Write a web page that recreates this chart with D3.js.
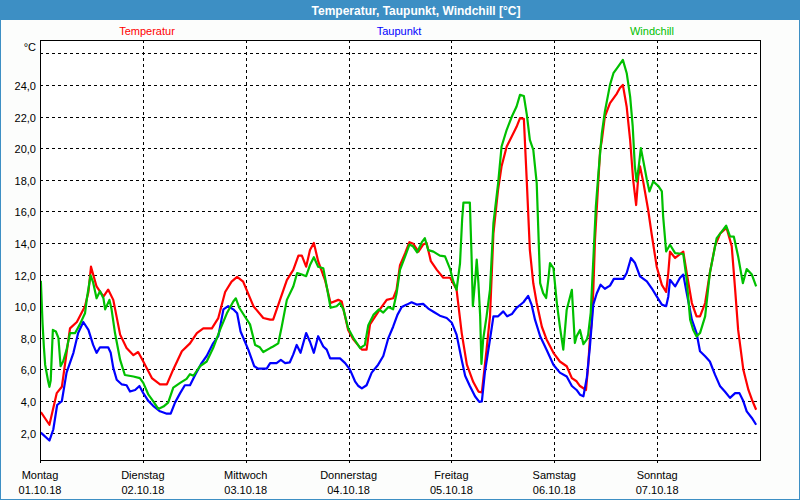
<!DOCTYPE html>
<html>
<head>
<meta charset="utf-8">
<script src="https://cdn.jsdelivr.net/npm/d3@7"></script>
<style>
  html, body { margin: 0; padding: 0; background: #ffffff; }
  svg { display: block; }
  text { font-family: "Liberation Sans", Arial, sans-serif; }
</style>
</head>
<body>
<script>
// ---- Data (hours since Mo 01.10.18 00:00) ----
const titleText = "Temperatur, Taupunkt, Windchill [°C]";
const seriesNames = ["Temperatur", "Taupunkt", "Windchill"];
const seriesColors = ["#ff0000", "#0000ff", "#00c000"];
const dayNames = ["Montag", "Dienstag", "Mittwoch", "Donnerstag", "Freitag", "Samstag", "Sonntag"];
const dayDates = ["01.10.18", "02.10.18", "03.10.18", "04.10.18", "05.10.18", "06.10.18", "07.10.18"];
const dayHours = [0, 24, 48, 72, 96, 120, 144];
const yTickValues = [2, 4, 6, 8, 10, 12, 14, 16, 18, 20, 22, 24];
const yGridValues = [2, 4, 6, 8, 10, 12, 14, 16, 18, 20, 22, 24, 26];
const yUnit = "°C";

const tempHours = [0.2,2.2,3.9,5.1,7.0,8.6,10.5,11.3,11.9,13.2,14.8,15.9,17.1,18.7,20.2,21.8,22.9,24.1,26.1,28.0,29.6,31.1,33.1,35.0,36.6,38.1,40.1,41.6,43.2,44.7,46.0,47.4,49.8,52.1,53.7,54.4,56.0,57.6,59.1,60.3,61.1,62.1,63.0,63.9,64.9,66.5,67.8,69.6,70.4,71.9,73.1,75.1,76.2,77.0,79.3,80.9,82.4,83.2,84.0,85.2,86.2,87.1,88.3,89.4,90.2,91.2,92.6,94.1,95.7,97.2,98.4,99.6,101.1,102.3,103.1,104.2,105.0,105.8,106.9,107.7,108.9,110.1,111.2,112.0,112.9,113.6,114.3,115.1,115.9,117.1,118.2,119.8,121.3,122.9,124.1,125.2,126.0,127.4,127.9,128.3,128.7,129.1,129.5,129.9,130.3,130.7,131.1,131.8,133.0,134.6,135.3,136.0,136.9,137.7,138.4,139.1,139.6,140.0,140.8,141.9,142.7,143.9,145.1,146.1,146.6,147.0,148.2,150.1,150.9,152.1,153.2,154.0,155.2,156.3,157.5,158.7,160.2,161.4,162.2,162.9,164.1,165.3,166.1,167.1];
const tempValues = [3.3,2.5,4.5,4.9,8.6,9.0,10.0,10.9,12.5,11.25,10.6,11.05,10.4,8.2,7.35,6.9,7.1,6.5,5.45,5.05,5.05,6.0,7.15,7.65,8.3,8.6,8.6,9.25,10.9,11.55,11.85,11.55,10.0,9.25,9.15,9.15,10.4,11.65,12.3,13.2,13.2,12.5,13.55,14.0,12.85,11.65,10.2,10.4,10.3,8.5,7.9,7.25,7.25,8.85,9.8,10.4,10.5,11.05,12.6,13.35,14.05,13.95,13.45,13.9,14.0,12.85,12.3,11.8,11.8,11.05,8.3,6.3,5.2,4.6,4.55,7.25,9.35,14.6,17.4,18.85,20.1,20.75,21.35,21.9,21.85,17.8,13.55,11.45,10.2,8.7,7.9,7.05,6.5,6.2,5.45,5.25,4.95,4.7,6.2,7.9,8.9,11.0,14.2,16.1,18.0,19.9,20.5,22.0,22.85,23.45,23.8,24.0,22.6,20.5,18.0,16.4,18.2,18.85,17.8,16.1,14.6,12.5,11.35,10.9,12.1,13.45,13.05,13.45,12.1,10.2,9.35,9.35,10.2,12.1,13.8,14.6,14.95,13.8,11.05,8.5,6.0,4.7,4.1,3.45];

const dewHours = [0.2,2.2,3.1,4.0,5.1,6.2,7.8,8.9,10.1,11.3,12.4,13.2,14.0,15.9,16.5,17.1,17.9,19.1,20.2,21.0,22.2,23.2,24.1,25.3,26.4,28.0,29.6,30.5,31.5,32.7,33.8,35.0,36.2,37.7,38.9,40.4,41.6,42.8,43.9,45.1,46.0,46.8,48.6,50.0,50.9,52.9,53.7,55.2,56.2,57.2,58.3,59.1,59.9,60.8,62.1,63.0,63.9,64.9,66.1,66.9,67.7,70.0,71.2,72.3,73.5,74.3,75.1,76.2,77.4,78.9,80.1,81.3,82.4,83.4,84.4,85.6,86.7,87.9,89.4,90.6,91.8,93.3,94.9,96.1,97.2,98.4,99.2,100.3,101.5,102.5,103.1,103.8,105.0,105.8,106.9,108.1,109.0,110.1,111.2,112.8,113.9,114.7,115.5,116.7,118.2,119.8,121.3,122.9,124.1,125.2,126.0,126.8,127.6,128.3,129.1,129.9,130.8,131.8,133.0,133.9,136.1,136.9,137.9,138.8,140.0,141.6,142.7,143.9,145.1,146.1,146.6,147.0,148.2,149.3,150.1,150.9,152.1,153.2,154.0,155.2,156.3,157.5,158.7,159.8,161.0,162.2,163.2,164.1,164.9,166.1,167.1];
const dewValues = [2.0,1.5,2.2,3.75,4.0,5.8,7.05,8.3,9.0,8.5,7.55,7.05,7.4,7.4,7.05,6.1,5.35,5.05,5.0,4.6,4.7,4.95,4.5,4.0,3.7,3.35,3.2,3.2,3.9,4.5,5.0,5.0,5.65,6.4,6.85,7.65,8.1,9.8,10.0,9.8,9.55,8.4,7.25,6.2,6.05,6.05,6.4,6.4,6.6,6.4,6.45,6.95,7.55,7.05,8.3,7.75,7.05,8.1,7.45,7.25,6.7,6.7,6.4,6.0,5.25,4.95,4.8,5.0,5.8,6.3,6.85,8.0,8.7,9.45,9.95,10.1,10.25,10.1,10.15,9.85,9.65,9.4,9.25,8.95,8.2,6.6,5.6,4.95,4.3,3.95,3.98,5.8,7.9,9.36,9.36,9.67,9.36,9.5,9.9,10.25,10.65,10.1,9.15,8.1,7.25,6.3,5.8,5.55,4.95,4.7,4.4,4.3,5.5,7.4,10.1,10.8,11.36,11.1,11.3,11.73,11.73,12.1,13.05,12.75,11.88,11.57,11.15,10.62,10.1,10.0,10.6,11.67,11.25,11.78,12.0,10.83,9.15,8.3,7.15,6.83,6.5,5.67,4.93,4.6,4.2,4.5,4.5,4.0,3.35,2.93,2.5];

const windHours = [0.2,0.6,0.9,1.2,1.9,2.2,2.5,3.0,3.7,4.3,4.8,5.4,6.2,7.0,8.2,9.3,10.5,11.0,11.8,12.4,13.2,14.0,14.8,15.2,16.2,16.7,17.5,18.7,19.8,21.8,23.3,24.1,25.3,26.4,27.6,28.8,29.9,31.1,32.7,34.2,35.0,35.8,37.3,38.9,40.4,42.0,43.6,45.1,45.7,46.5,47.8,49.0,50.2,51.3,52.1,53.7,54.4,55.6,56.4,57.6,59.1,60.0,61.1,62.1,63.0,63.9,64.9,66.1,66.9,67.8,69.2,70.0,70.8,71.9,73.1,74.7,75.8,76.6,77.8,79.1,80.1,81.3,82.4,83.2,84.0,85.2,86.2,87.0,88.0,89.1,89.8,90.6,91.8,93.3,94.5,95.7,96.4,97.2,98.0,98.5,98.8,100.3,100.7,101.0,101.5,101.9,102.3,102.7,103.0,103.4,104.2,105.0,105.8,106.9,107.7,108.9,110.1,111.2,112.0,112.9,113.6,114.3,115.1,115.9,116.7,117.4,118.1,118.6,119.0,119.8,120.6,121.3,122.1,122.9,124.1,124.8,125.2,126.0,126.8,127.6,127.9,128.5,129.1,129.7,130.3,131.1,131.8,133.0,133.8,134.9,136.0,136.9,137.7,138.3,138.8,139.2,139.6,140.2,140.8,141.6,142.2,143.1,144.3,145.1,145.4,146.1,147.0,148.2,150.1,150.9,151.7,152.4,153.2,154.0,155.2,156.3,157.9,159.1,160.1,161.0,161.9,162.9,164.0,164.9,166.1,167.1];
const windValues = [11.6,8.9,7.45,6.3,5.25,4.9,5.3,8.5,8.4,8.0,6.2,6.5,7.25,8.3,8.3,8.85,9.55,10.6,11.95,11.5,10.5,10.95,10.5,9.8,10.4,9.8,8.3,6.6,5.65,5.55,5.45,5.15,4.4,4.0,3.5,3.65,3.9,4.85,5.15,5.4,5.7,5.6,6.2,6.5,7.35,8.5,9.55,10.3,10.5,9.9,9.35,8.85,7.55,7.4,7.1,7.35,7.45,7.65,8.7,10.4,11.25,12.1,12.0,11.9,12.6,13.1,12.5,12.4,11.25,9.9,10.0,10.2,9.8,8.6,8.0,7.35,7.55,8.8,9.45,9.8,9.6,9.95,9.8,10.8,12.3,13.15,13.9,13.8,13.4,14.05,14.3,13.55,13.45,13.2,13.15,12.35,11.6,11.04,12.7,15.5,16.55,16.55,13.15,10.0,11.5,12.95,11.46,9.4,6.35,7.88,9.36,11.04,15.26,17.78,20.1,21.16,22.0,22.63,23.37,23.3,22.1,20.52,19.89,17.78,11.46,10.83,10.52,11.67,12.73,12.41,10.2,8.72,7.25,9.78,11.04,7.67,8.09,8.5,7.6,7.9,8.2,9.57,12.9,16.3,18.42,20.95,22.3,24.0,24.74,25.16,25.58,24.74,23.26,21.37,18.84,17.89,18.6,20.0,19.15,18.0,17.26,17.89,17.6,17.26,15.68,13.46,13.89,13.36,13.3,11.67,9.15,8.51,8.09,8.3,9.36,12.1,14.31,14.73,15.09,14.41,14.4,13.15,11.46,12.35,12.0,11.25];

// ---- Layout ----
const W = 800, H = 500;
const plot = { left: 40, right: 760, top: 40, bottom: 460 };

const svg = d3.select("body").append("svg")
  .attr("width", W).attr("height", H);

// background + outer border
svg.append("rect").attr("x", 0).attr("y", 0).attr("width", W).attr("height", H)
  .attr("fill", "#fcfdfc");
svg.append("rect").attr("x", 0.5).attr("y", 0.5).attr("width", W - 1).attr("height", H - 1)
  .attr("fill", "none").attr("stroke", "#3d8fc4").attr("stroke-width", 1);
svg.append("rect").attr("x", 0).attr("y", 0).attr("width", W).attr("height", 20)
  .attr("fill", "#3d8fc4");
svg.append("text").attr("x", 416).attr("y", 14.5).attr("text-anchor", "middle")
  .attr("fill", "#ffffff").attr("font-weight", "bold").attr("font-size", "12px")
  .text(titleText);

// scales
const x = d3.scaleLinear().domain([0, 168]).range([plot.left, plot.right]);
const y = d3.scaleLinear().domain([0.27, 26.84]).range([plot.bottom, plot.top]);

// plot background
svg.append("rect").attr("x", plot.left).attr("y", plot.top)
  .attr("width", plot.right - plot.left).attr("height", plot.bottom - plot.top)
  .attr("fill", "#ffffff");

// horizontal grid
svg.append("g").selectAll("line").data(yGridValues).join("line")
  .attr("x1", plot.left).attr("x2", plot.right)
  .attr("y1", d => Math.round(y(d)) + 0.5).attr("y2", d => Math.round(y(d)) + 0.5)
  .attr("stroke", "#000").attr("stroke-width", 1).attr("stroke-dasharray", "3,3");

// vertical grid (days)
svg.append("g").selectAll("line").data(dayHours.slice(1)).join("line")
  .attr("x1", d => Math.round(x(d)) + 0.5).attr("x2", d => Math.round(x(d)) + 0.5)
  .attr("y1", plot.top).attr("y2", plot.bottom)
  .attr("stroke", "#000").attr("stroke-width", 1).attr("stroke-dasharray", "3,3");

// y axis labels
const fmt = d => d3.format(".1f")(d).replace(".", ",");
svg.append("g").selectAll("text").data(yTickValues).join("text")
  .attr("x", 36).attr("y", d => y(d) + 5)
  .attr("text-anchor", "end").attr("font-size", "11px").attr("fill", "#000")
  .text(fmt);
svg.append("text").attr("x", 36).attr("y", 51).attr("text-anchor", "end")
  .attr("font-size", "11px").attr("fill", "#000").text(yUnit);

// x axis labels & ticks
svg.append("g").selectAll("line").data(dayHours).join("line")
  .attr("x1", d => Math.round(x(d)) + 0.5).attr("x2", d => Math.round(x(d)) + 0.5)
  .attr("y1", plot.bottom).attr("y2", plot.bottom + 3)
  .attr("stroke", "#000");
svg.append("g").selectAll("text").data(dayNames).join("text")
  .attr("x", (d, i) => x(dayHours[i])).attr("y", 479)
  .attr("text-anchor", "middle").attr("font-size", "11px").attr("fill", "#000")
  .text(d => d);
svg.append("g").selectAll("text").data(dayDates).join("text")
  .attr("x", (d, i) => x(dayHours[i])).attr("y", 494)
  .attr("text-anchor", "middle").attr("font-size", "11px").attr("fill", "#000")
  .text(d => d);

// legend
const legendX = [147, 399, 652];
svg.append("g").selectAll("text").data(seriesNames).join("text")
  .attr("x", (d, i) => legendX[i]).attr("y", 35)
  .attr("text-anchor", "middle").attr("font-size", "11px")
  .attr("fill", (d, i) => seriesColors[i])
  .text(d => d);

// lines
const series = [
  { hours: tempHours, values: tempValues, color: seriesColors[0] },
  { hours: dewHours, values: dewValues, color: seriesColors[1] },
  { hours: windHours, values: windValues, color: seriesColors[2] }
];
const line = d3.line().x(d => x(d[0])).y(d => y(d[1]));
const clip = svg.append("clipPath").attr("id", "clip").append("rect")
  .attr("x", plot.left).attr("y", plot.top)
  .attr("width", plot.right - plot.left).attr("height", plot.bottom - plot.top);
const lg = svg.append("g").attr("clip-path", "url(#clip)");
series.forEach(s => {
  const pts = s.hours.map((h, i) => [h, s.values[i]]);
  lg.append("path").datum(pts)
    .attr("d", line)
    .attr("fill", "none").attr("stroke", s.color).attr("stroke-width", 2.2)
    .attr("stroke-linejoin", "round");
});

// plot frame
svg.append("rect").attr("x", plot.left + 0.5).attr("y", plot.top + 0.5)
  .attr("width", plot.right - plot.left).attr("height", plot.bottom - plot.top)
  .attr("fill", "none").attr("stroke", "#000").attr("stroke-width", 1);
</script>
</body>
</html>
